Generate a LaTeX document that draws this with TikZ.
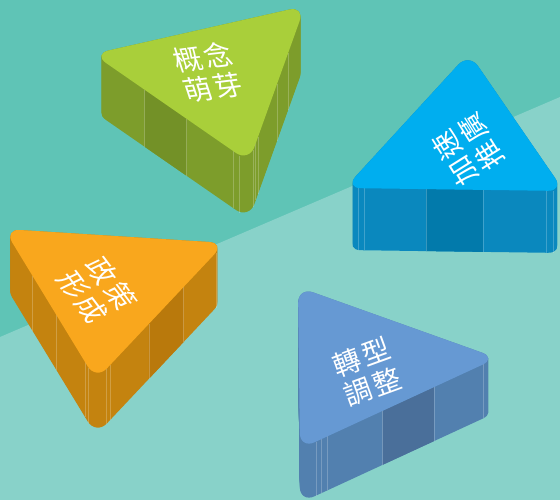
\documentclass[tikz,border=0pt]{standalone}
\usepackage{fontspec}
\newfontfamily\cjk{Noto Sans CJK TC}
\usetikzlibrary{calc}
\definecolor{bgtop}{HTML}{5FC4B6}
\definecolor{bgband}{HTML}{88D2C9}
\definecolor{greentop}{HTML}{A9CF3A}
\definecolor{greenside}{HTML}{7D9D2B}
\definecolor{greenpanel}{HTML}{739127}
\definecolor{bluetop}{HTML}{00AEEF}
\definecolor{blueside}{HTML}{0A88BE}
\definecolor{bluepanel}{HTML}{027AAB}
\definecolor{orangetop}{HTML}{F9A71D}
\definecolor{orangeside}{HTML}{C4830F}
\definecolor{orangepanel}{HTML}{B9790C}
\definecolor{steeltop}{HTML}{6699D3}
\definecolor{steelside}{HTML}{5280AF}
\definecolor{steelpanel}{HTML}{4A6F9A}
\tikzset{
  stagetext/.style={text=white, font=\cjk\fontsize{28}{31}\selectfont, align=center, inner sep=0pt},
  facet/.style={draw=white, opacity=0.22, line width=0.5pt},
  corner/.style={rounded corners=16pt},
}
% extruded wall of a rounded triangle: colour, three corners, height
\newcommand\wall[5]{%
  \foreach \d in {0,...,#5}
    \fill[#1, corner] ($(#2)+(0,\d)$) -- ($(#3)+(0,\d)$) -- ($(#4)+(0,\d)$) -- cycle;
}
\begin{document}
\begin{tikzpicture}[x=1pt,y=-1pt]
    \useasboundingbox (0,0) rectangle (560,500);
    \fill[bgtop] (0,0) rectangle (560,500);
    \fill[bgband] (0,337) -- (560,97) -- (560,500) -- (0,500) -- cycle;
    % green
    \coordinate (g1) at (93,54);
    \coordinate (g2) at (305,6);
    \coordinate (g3) at (249,162);
    \wall{greenside}{g1}{g2}{g3}{57}
    \fill[greenpanel] ($(g1)!0.33!(g3)$) -- ($(g1)!0.6!(g3)$) -- ++(0,57) -- ($(g1)!0.33!(g3)+(0,57)$) -- cycle;
    \foreach \t in {0.33,0.6,0.9,0.94}
        \draw[facet] ($(g1)!\t!(g3)$) -- ++(0,57);
    \foreach \t in {0.08,0.12,0.16,0.5,0.7}
        \draw[facet] ($(g3)!\t!(g2)$) -- ++(0,57);
    \fill[greentop, corner] (g1) -- (g2) -- (g3) -- cycle;
    \node[stagetext, rotate=7, xslant=-0.2] (gtext) at (208,72) {概\kern3pt 念\\萌\kern3pt 芽};
    % blue
    \coordinate (b1) at (469,53);
    \coordinate (b2) at (345,188);
    \coordinate (b3) at (564,191);
    \wall{blueside}{b1}{b2}{b3}{62}
    \fill[bluepanel] ($(b2)!0.37!(b3)$) -- ($(b2)!0.63!(b3)$) -- ++(0,62) -- ($(b2)!0.37!(b3)+(0,62)$) -- cycle;
    \foreach \t in {0.06,0.09,0.37,0.63,0.92,0.95}
        \draw[facet] ($(b2)!\t!(b3)$) -- ++(0,62);
    \fill[bluetop, corner] (b1) -- (b2) -- (b3) -- cycle;
    \node[stagetext, rotate=122] (btext) at (468,150) {加\kern3pt 速\\推\kern3pt 廣};
    % orange
    \coordinate (o1) at (4,229);
    \coordinate (o2) at (225,243);
    \coordinate (o3) at (96,380);
    \wall{orangeside}{o1}{o2}{o3}{55}
    \fill[orangepanel] ($(o3)!0.41!(o2)$) -- ($(o3)!0.68!(o2)$) -- ++(0,55) -- ($(o3)!0.41!(o2)+(0,55)$) -- cycle;
    \foreach \t in {0.31,0.57,0.88,0.92}
        \draw[facet] ($(o1)!\t!(o3)$) -- ++(0,55);
    \foreach \t in {0.08,0.11,0.41,0.68,0.93}
        \draw[facet] ($(o3)!\t!(o2)$) -- ++(0,55);
    \fill[orangetop, corner] (o1) -- (o2) -- (o3) -- cycle;
    \node[stagetext, rotate=-53, xslant=0.2] (otext) at (97,290) {政\kern3pt 策\\形\kern3pt 成};
    % steel blue
    \coordinate (s1) at (298,287);
    \coordinate (s2) at (497,358);
    \coordinate (s3) at (300,449);
    \wall{steelside}{s1}{s2}{s3}{54}
    \fill[steelpanel] ($(s3)!0.42!(s2)$) -- ($(s3)!0.68!(s2)$) -- ++(0,54) -- ($(s3)!0.42!(s2)+(0,54)$) -- cycle;
    \foreach \t in {0.08,0.11,0.14,0.42,0.68,0.93}
        \draw[facet] ($(s3)!\t!(s2)$) -- ++(0,54);
    \fill[steeltop, corner] (s1) -- (s2) -- (s3) -- cycle;
    \node[stagetext, rotate=20] (stext) at (367,372) {轉\kern3pt 型\\調\kern3pt 整};
\end{tikzpicture}
\end{document}
